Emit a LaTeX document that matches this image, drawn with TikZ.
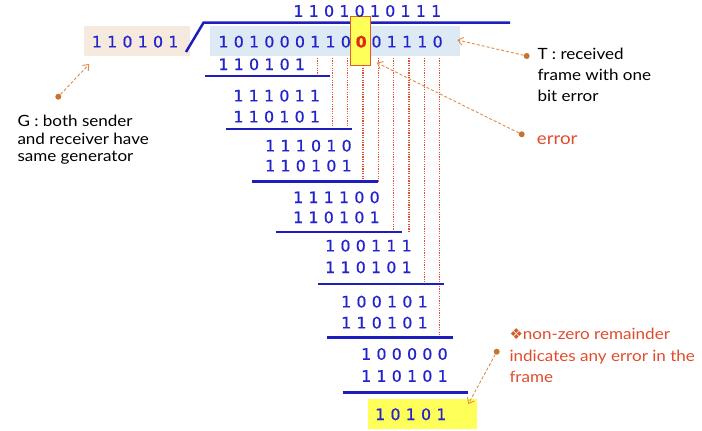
\documentclass[tikz,border=0pt]{standalone}
\usepackage{fontspec}
\setmainfont{DejaVu Sans}
\newfontfamily\digfont[FakeBold=0.4]{DejaVu Sans}
\newfontfamily\annfont[FakeStretch=1.1]{Lato}
\newfontfamily\symfont{DejaVu Sans}
\usetikzlibrary{arrows.meta}
\definecolor{digblue}{RGB}{35,35,205}
\definecolor{lineblue}{RGB}{30,30,190}
\definecolor{peach}{RGB}{246,234,222}
\definecolor{bgblue}{RGB}{222,234,243}
\definecolor{hiyellow}{RGB}{255,255,90}
\definecolor{hiborder}{RGB}{230,90,40}
\definecolor{errred}{RGB}{225,40,20}
\definecolor{dotred}{RGB}{225,80,45}
\definecolor{annorange}{RGB}{225,140,70}
\definecolor{anndot}{RGB}{200,115,50}
\definecolor{nztext}{RGB}{225,75,45}
\newlength\pitch \setlength\pitch{15.3pt}
\makeatletter
\def\brow#1{\brow@i#1\relax}
\def\brow@i#1{\ifx#1\relax\else\makebox[\pitch]{#1}\expandafter\brow@i\fi}
\makeatother
\tikzset{
  bits/.style={anchor=west, inner sep=0pt, text=digblue, font=\digfont\fontsize{15.8}{18}\selectfont},
  uline/.style={draw=lineblue, line width=2.6pt},
  bringdown/.style={draw=dotred, line width=1.2pt, dash pattern=on 1.1pt off 1.3pt},
  ann/.style={draw=annorange, line width=0.9pt, dash pattern=on 3pt off 2pt, -{Straight Barb[length=5pt,width=8pt]}},
  anndotstyle/.style={circle, fill=anndot, inner sep=0pt, minimum size=6pt},
  anntext/.style={anchor=base west, inner sep=0pt, font=\annfont\fontsize{15.5}{18}\selectfont},
}
\begin{document}
\begin{tikzpicture}[x=1pt,y=-1pt]
\useasboundingbox (0,0) rectangle (702,431);
% backgrounds
\fill[peach] (84,26) rectangle (190,56);
\fill[bgblue] (210,26) rectangle (460,56);
\fill[hiyellow] (367.7,399) rectangle (476.7,429);
% division bracket
\draw[uline, line width=2.5pt] (186,52) -- (203.5,22.7) -- (510,22.7);
% bring-down lines
\draw[bringdown] (317.3,58) -- (317.3,76);
\draw[bringdown] (332.3,58) -- (332.3,129);
\draw[bringdown] (347.7,58) -- (347.7,129);
\draw[bringdown] (363.0,58) -- (363.0,181.7);
\draw[bringdown] (378.3,58) -- (378.3,181.7);
\draw[bringdown] (393.3,58) -- (393.3,232);
\draw[bringdown] (409.0,58) -- (409.0,232);
\draw[bringdown] (424.3,58) -- (424.3,284);
\draw[bringdown] (439.3,58) -- (439.3,337.3);
% highlight of error bit
\draw[fill=hiyellow, draw=hiborder, line width=1.5pt] (350.7,16.7) rectangle (370.7,65.7);
% rows
\node[bits] (q)  at (290.65,11)   {\brow{1101010111}};
\node[bits] (g)  at (89.05,41.7)  {\brow{110101}};
\node[bits] (d)  at (215.65,41.7) {\brow{101000110}\makebox[\pitch]{\bfseries\color{errred}0}\brow{01110}};
\node[bits] (s1) at (215.65,64.3) {\brow{110101}};
\node[bits] (a2) at (230.65,95.7) {\brow{111011}};
\node[bits] (s2) at (230.65,116.7) {\brow{110101}};
\node[bits] (a3) at (262.35,145.7) {\brow{111010}};
\node[bits] (s3) at (262.35,165.7) {\brow{110101}};
\node[bits] (a4) at (290.35,197.3) {\brow{111100}};
\node[bits] (s4) at (290.35,217.3) {\brow{110101}};
\node[bits] (a5) at (322.35,245.7) {\brow{100111}};
\node[bits] (s5) at (322.35,267.3) {\brow{110101}};
\node[bits] (a6) at (338.35,301.7) {\brow{100101}};
\node[bits] (s6) at (338.35,322.7) {\brow{110101}};
\node[bits] (a7) at (358.35,354)  {\brow{100000}};
\node[bits] (s7) at (358.35,376)  {\brow{110101}};
\node[bits] (rem) at (372.35,414.3) {\brow{10101}};
% underlines
\draw[uline] (205,76) -- (330,76);
\draw[uline] (226,129) -- (351.7,129);
\draw[uline] (252.3,181.7) -- (378.3,181.7);
\draw[uline] (275.7,232) -- (401.7,232);
\draw[uline] (318.3,284) -- (444,284);
\draw[uline] (326.7,337.3) -- (452.7,337.3);
\draw[uline] (342.7,392.7) -- (468.3,392.7);
% annotations
\node[anndotstyle] (gdot) at (58.3,96.7) {};
\coordinate (gtip) at (89.3,64);
\draw[ann] (gdot) -- (gtip);
\node[anntext] (gt1) at (17.3,126) {G : both sender};
\node[anntext] (gt2) at (17.3,144) {and receiver have};
\node[anntext] (gt3) at (17.3,161) {same generator};

\node[anndotstyle] (tdot) at (526.7,56) {};
\coordinate (ttip) at (457.3,40);
\draw[ann] (tdot) -- (ttip);
\node[anntext] (tt1) at (537.3,59.3) {T : received};
\node[anntext] (tt2) at (537.3,80) {frame with one};
\node[anntext] (tt3) at (537.3,101) {bit error};

\node[anndotstyle] (edot) at (521.7,134.3) {};
\coordinate (etip) at (376.7,62.7);
\draw[ann] (edot) -- (etip);
\node[anntext, text=nztext, font=\annfont\fontsize{17}{20}\selectfont] (et) at (536.7,144.3) {error};

\node[anndotstyle] (ndot) at (496.7,351.7) {};
\coordinate (ntip) at (468.3,404);
\draw[ann] (ndot) -- (ntip);
\node[anntext, text=nztext] (nt1) at (509.3,339.3) {{\symfont\fontsize{15}{15}\selectfont\color{anndot!80!red}❖}non-zero remainder};
\node[anntext, text=nztext] (nt2) at (509.3,361.7) {indicates any error in the};
\node[anntext, text=nztext] (nt3) at (509.3,382.7) {frame};
\end{tikzpicture}
\end{document}
